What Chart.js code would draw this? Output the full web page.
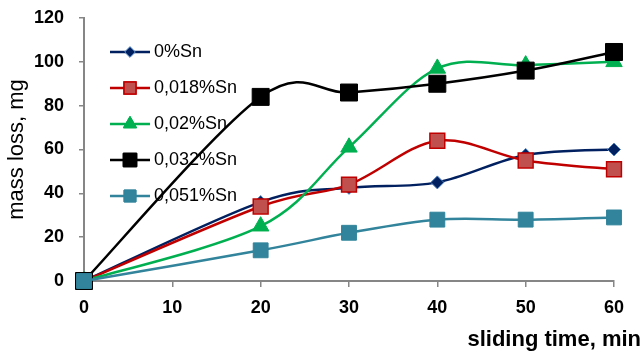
<!DOCTYPE html>
<html>
<head>
<meta charset="utf-8">
<script src="https://cdn.jsdelivr.net/npm/chart.js@4/dist/chart.umd.min.js"></script>
<style>
  html, body { margin: 0; padding: 0; background: #fff; }
  #wrap { width: 643px; height: 358px; position: relative; }
</style>
</head>
<body>
<div id="wrap"><canvas id="c" width="643" height="358"></canvas></div>
<script>
// ---- data ----
const times = [0, 20, 30, 40, 50, 60];
const seriesNames = ['0%Sn', '0,018%Sn', '0,02%Sn', '0,032%Sn', '0,051%Sn'];
const sn0   = [0, 36, 42.5, 45, 57.5, 60];
const sn018 = [0, 34, 44, 64, 55, 51];
const sn02  = [0, 25, 61, 97, 98.5, 100];
const sn032 = [0, 84, 86, 90, 96, 104.5];
const sn051 = [0, 14, 22, 28, 28, 29];
const yTicks = [0, 20, 40, 60, 80, 100, 120];
const xTicks = [0, 10, 20, 30, 40, 50, 60];

const styles = [
  { line: '#002060', fill: '#002060', border: '#4F81BD', shape: 'rectRot', r: 6.5, bw: 1 },
  { line: '#C00000', fill: '#C0504D', border: '#C00000', shape: 'rect', r: 10.5, bw: 1.5 },
  { line: '#00B050', fill: '#00B050', border: '#00B050', shape: 'triangle', r: 9.5, bw: 1 },
  { line: '#000000', fill: '#000000', border: '#000000', shape: 'rect', r: 12, bw: 1 },
  { line: '#31849B', fill: '#31849B', border: '#31849B', shape: 'rect', r: 10.5, bw: 1 }
];
const allValues = [sn0, sn018, sn02, sn032, sn051];

function legendIcon(st) {
  const cv = document.createElement('canvas');
  cv.width = 40; cv.height = 22;
  const ctx = cv.getContext('2d');
  ctx.strokeStyle = st.line; ctx.lineWidth = 2.5;
  ctx.beginPath(); ctx.moveTo(0, 11); ctx.lineTo(40, 11); ctx.stroke();
  ctx.fillStyle = st.fill; ctx.strokeStyle = st.border; ctx.lineWidth = st.bw;
  Chart.helpers.drawPoint(ctx, { pointStyle: st.shape, radius: st.r * 0.8, rotation: 0, borderWidth: st.bw }, 20, 11);
  ctx.fill(); ctx.stroke();
  return cv;
}

const datasets = allValues.map((vals, i) => ({
  label: seriesNames[i],
  data: times.map((t, k) => ({ x: t, y: vals[k] })),
  borderColor: styles[i].line,
  backgroundColor: styles[i].fill,
  borderWidth: 2.5,
  tension: 0.3,
  clip: false,
  pointStyle: styles[i].shape,
  pointRadius: styles[i].r,
  pointHoverRadius: styles[i].r,
  pointBackgroundColor: styles[i].fill,
  pointBorderColor: styles[i].border,
  pointBorderWidth: styles[i].bw,
  order: 5 - i
}));

// Excel-style smoothing (uniform Catmull-Rom, 1/6 tangents) computed from the library's own point pixels
const excelSmooth = {
  id: 'excelSmooth',
  beforeDatasetDraw(chart, args) {
    const meta = args.meta;
    const line = meta.dataset;
    if (!line || !line.updateControlPoints) return;
    line.updateControlPoints(chart.chartArea, meta.iScale.axis);
    const pts = meta.data;
    const n = pts.length;
    for (let i = 0; i < n; i++) {
      const p = pts[i];
      const a = pts[Math.max(i - 1, 0)];
      const b = pts[Math.min(i + 1, n - 1)];
      const tx = (b.x - a.x) / 6, ty = (b.y - a.y) / 6;
      p.cp1x = p.x - tx; p.cp1y = p.y - ty;
      p.cp2x = p.x + tx; p.cp2y = p.y + ty;
    }
    line._pointsUpdated = true;
    line._path = undefined;
  }
};

const layoutTweaks = {
  id: 'layoutTweaks',
  afterLayout(chart) {
    const lg = chart.legend;
    if (lg) { lg.left += 13; lg.right += 13; lg.top += 25; lg.bottom += 25; }
    const xs = chart.scales.x;
    if (xs && !xs._titlePatched) {
      const orig = xs.drawTitle;
      xs.drawTitle = function () {
        const r = this.right;
        this.right = r + 27;
        orig.apply(this, arguments);
        this.right = r;
      };
      xs._titlePatched = true;
    }
  }
};

new Chart(document.getElementById('c'), {
  type: 'line',
  data: { datasets },
  plugins: [layoutTweaks, excelSmooth],
  options: {
    responsive: false,
    animation: false,
    layout: { padding: { top: 18, right: 29, left: 0, bottom: 0 } },
    plugins: {
      tooltip: { enabled: false },
      legend: {
        position: 'chartArea',
        align: 'start',
        labels: {
          usePointStyle: true,
          pointStyleWidth: 30,
          padding: 18,
          color: '#000',
          font: { family: 'Liberation Sans, Arial, sans-serif', size: 18 },
          generateLabels: (chart) => chart.data.datasets.map((ds, i) => ({
            text: ds.label,
            pointStyle: legendIcon(styles[i]),
            fillStyle: styles[i].fill,
            strokeStyle: styles[i].line,
            lineWidth: 0,
            hidden: false,
            datasetIndex: i,
            fontColor: '#000'
          }))
        }
      }
    },
    scales: {
      x: {
        type: 'linear',
        min: 0, max: 60,
        afterFit: (s) => { s.height = 77; },
        afterBuildTicks: (s) => { s.ticks = xTicks.map(v => ({ value: v })); },
        grid: { display: true, drawOnChartArea: false, drawTicks: true, tickLength: 6, color: '#868686', lineWidth: 1.5 },
        border: { display: true, color: '#868686', width: 2 },
        ticks: { color: '#000', padding: 10, font: { family: 'Liberation Sans, Arial, sans-serif', size: 18, weight: 'bold' } },
        title: {
          display: true, text: 'sliding time, min', align: 'end', color: '#000',
          padding: { top: 1, bottom: 5 },
          font: { family: 'Liberation Sans, Arial, sans-serif', size: 22, weight: 'bold' }
        }
      },
      y: {
        type: 'linear',
        min: 0, max: 120,
        afterFit: (s) => { s.width = 84; s.paddingTop = 0; s.paddingBottom = 0; },
        afterBuildTicks: (s) => { s.ticks = yTicks.map(v => ({ value: v })); },
        grid: { display: true, drawOnChartArea: false, drawTicks: true, tickLength: 5, color: '#868686', lineWidth: 1.5 },
        border: { display: true, color: '#868686', width: 2 },
        ticks: { color: '#000', padding: 15, font: { family: 'Liberation Sans, Arial, sans-serif', size: 18, weight: 'bold' } },
        title: {
          display: true, text: 'mass loss, mg', color: '#000',
          padding: { top: 4, bottom: 0 },
          font: { family: 'Liberation Sans, Arial, sans-serif', size: 22 }
        }
      }
    }
  }
});
</script>
</body>
</html>
